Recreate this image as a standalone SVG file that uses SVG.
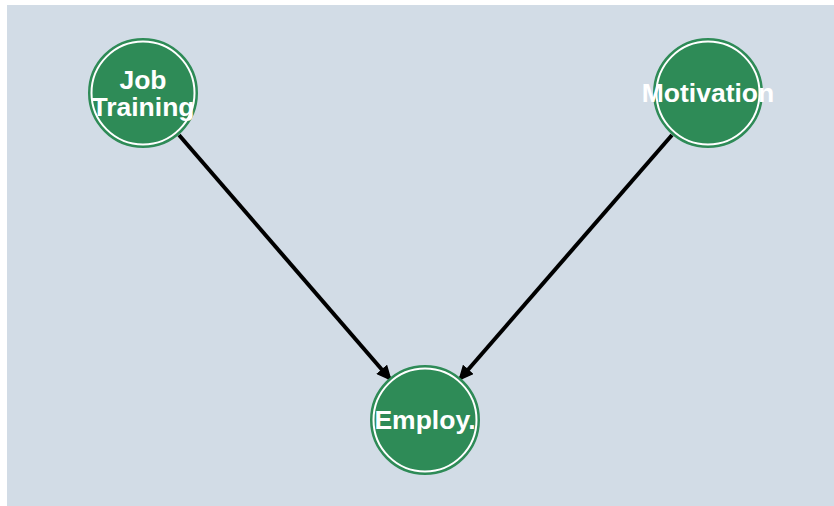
<svg xmlns="http://www.w3.org/2000/svg" width="834" height="506" viewBox="0 0 834 506">
  <defs>
    <style>
      .panel { fill: #d2dce6; }
      .node-fill { fill: #2e8b57; stroke: #2e8b57; stroke-width: 2; }
      .node-ring { fill: none; stroke: #ffffff; stroke-width: 2; }
      .label { font-family: "Liberation Sans", Arial, Helvetica, sans-serif; font-weight: bold; font-size: 26.5px; fill: #ffffff; text-anchor: middle; }
      .edge { stroke: #000000; stroke-width: 4; fill: none; }
    </style>
    <marker id="arrow" viewBox="0 0 15 14" refX="13" refY="7" markerWidth="15" markerHeight="14" markerUnits="userSpaceOnUse" orient="auto">
      <path d="M1,1 L14,7 L1,13 z" fill="#000000" stroke="#000000" stroke-width="1.5" stroke-linejoin="miter"/>
    </marker>
  </defs>

  <rect class="panel" x="7" y="5" width="827" height="501"/>

  <g id="edges">
    <line class="edge" x1="179" y1="135" x2="390" y2="379" marker-end="url(#arrow)"/>
    <line class="edge" x1="672" y1="135" x2="460" y2="379" marker-end="url(#arrow)"/>
  </g>

  <g id="node-job-training">
    <circle class="node-fill" cx="143" cy="93" r="54"/>
    <circle class="node-ring" cx="143" cy="93" r="51.5"/>
    <text class="label" x="143" y="89">Job<tspan x="143" y="116">Training</tspan></text>
  </g>

  <g id="node-motivation">
    <circle class="node-fill" cx="708" cy="93" r="54"/>
    <circle class="node-ring" cx="708" cy="93" r="51.5"/>
    <text class="label" x="708" y="102">Motivation</text>
  </g>

  <g id="node-employ">
    <circle class="node-fill" cx="425" cy="420" r="54"/>
    <circle class="node-ring" cx="425" cy="420" r="51.5"/>
    <text class="label" x="425" y="429">Employ.</text>
  </g>
</svg>
